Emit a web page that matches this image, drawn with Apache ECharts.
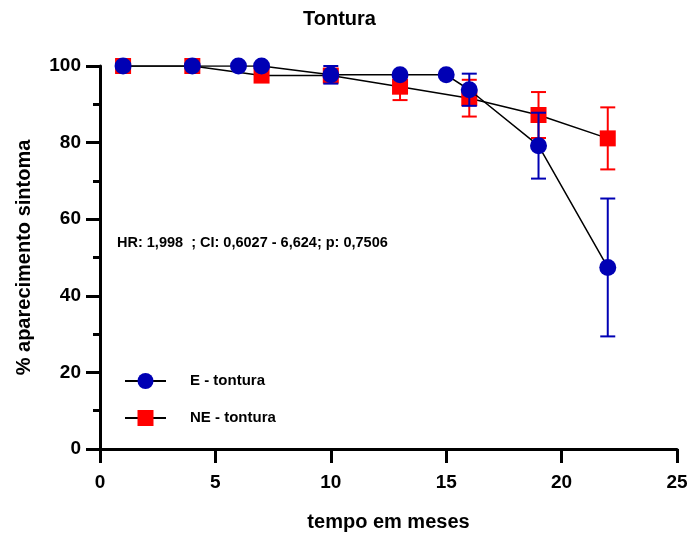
<!DOCTYPE html>
<html>
<head>
<meta charset="utf-8">
<script src="https://cdn.jsdelivr.net/npm/echarts@6/dist/echarts.min.js"></script>
<style>
  html, body { margin: 0; padding: 0; background: #fff; }
  #chart { width: 695px; height: 537px; }
</style>
</head>
<body>
<div id="chart"></div>
<script>
// E - tontura (blue circles)
const monthsE = [1, 4, 6, 7, 10, 13, 15, 16, 19, 22];
const valuesE = [100, 100, 100, 100, 97.7, 97.7, 97.7, 93.8, 79.2, 47.4];
const errE = [0, 0, 0, 0, 2.3, 0, 0, 4.2, 8.6, 18];

// NE - tontura (red squares)
const monthsNE = [1, 4, 7, 10, 13, 16, 19, 22];
const valuesNE = [100, 100, 97.5, 97.5, 94.6, 91.6, 87.2, 81.1];
const errNE = [0, 0, 0, 0, 3.5, 4.8, 6, 8.1];

const xTicks = [0, 5, 10, 15, 20, 25];
const yTicks = [0, 20, 40, 60, 80, 100];

const annotation = 'HR: 1,998  ; CI: 0,6027 - 6,624; p: 0,7506';

const BLUE = '#0000b4';
const RED = '#ff0000';
const FONT = 'Liberation Sans, Arial, sans-serif';

const pairs = (xs, ys) => xs.map((x, i) => [x, ys[i]]);
const errRows = (xs, ys, es) =>
  xs.map((x, i) => [x, ys[i] - es[i], ys[i] + es[i]]).filter((r, i) => es[i] > 0);

function errorBars(color) {
  return function (params, api) {
    const x = api.value(0);
    const lo = api.coord([x, api.value(1)]);
    const hi = api.coord([x, api.value(2)]);
    const hw = 7.5;
    const style = { stroke: color, lineWidth: 2 };
    return {
      type: 'group',
      children: [
        { type: 'line', shape: { x1: lo[0], y1: lo[1], x2: hi[0], y2: hi[1] }, style },
        { type: 'line', shape: { x1: hi[0] - hw, y1: hi[1], x2: hi[0] + hw, y2: hi[1] }, style },
        { type: 'line', shape: { x1: lo[0] - hw, y1: lo[1], x2: lo[0] + hw, y2: lo[1] }, style },
      ],
    };
  };
}

const chart = echarts.init(document.getElementById('chart'));

chart.setOption({
  animation: false,
  backgroundColor: '#fff',
  title: {
    text: 'Tontura',
    left: 298,
    top: 4,
    textStyle: { fontFamily: FONT, fontWeight: 'bold', fontSize: 20, color: '#000' },
  },
  legend: {
    orient: 'vertical',
    left: 124,
    top: 373,
    padding: 0,
    itemWidth: 41,
    itemHeight: 20,
    itemGap: 21,
    data: ['E - tontura', 'NE - tontura'],
    textStyle: { fontFamily: FONT, fontWeight: 'bold', fontSize: 15, color: '#000', padding: [0, 0, 0, 19] },
  },
  graphic: [
    {
      type: 'text',
      left: 117,
      top: 235,
      style: { text: annotation, fontFamily: FONT, fontWeight: 'bold', fontSize: 14.5, fill: '#000' },
    },
  ],
  grid: { left: 100, right: 18, top: 66, bottom: 88 },
  xAxis: {
    type: 'value',
    min: xTicks[0],
    max: xTicks[xTicks.length - 1],
    interval: 5,
    name: 'tempo em meses',
    nameLocation: 'middle',
    nameGap: 63,
    nameTextStyle: { fontFamily: FONT, fontWeight: 'bold', fontSize: 20, color: '#000' },
    axisLine: { onZero: false, lineStyle: { color: '#000', width: 3 } },
    axisTick: { length: 14, lineStyle: { color: '#000', width: 3 } },
    axisLabel: { margin: 24, fontFamily: FONT, fontWeight: 'bold', fontSize: 19, color: '#000' },
    splitLine: { show: false },
  },
  yAxis: {
    type: 'value',
    min: yTicks[0],
    max: yTicks[yTicks.length - 1],
    interval: 20,
    name: '% aparecimento sintoma',
    nameLocation: 'middle',
    nameGap: 66,
    nameTextStyle: { fontFamily: FONT, fontWeight: 'bold', fontSize: 20, color: '#000' },
    axisLine: { show: true, onZero: false, lineStyle: { color: '#000', width: 3 } },
    axisTick: { show: true, length: 14, lineStyle: { color: '#000', width: 3 } },
    minorTick: { show: true, splitNumber: 2, length: 7, lineStyle: { color: '#000', width: 3 } },
    axisLabel: { margin: 19, fontFamily: FONT, fontWeight: 'bold', fontSize: 19, color: '#000' },
    splitLine: { show: false },
  },
  series: [
    {
      type: 'custom',
      name: 'NE err',
      z: 2,
      renderItem: errorBars(RED),
      data: errRows(monthsNE, valuesNE, errNE),
      silent: true,
    },
    {
      name: 'NE - tontura',
      type: 'line',
      z: 3,
      data: pairs(monthsNE, valuesNE),
      symbol: 'rect',
      symbolSize: 16,
      itemStyle: { color: RED },
      lineStyle: { color: '#000', width: 1.5 },
    },
    {
      type: 'custom',
      name: 'E err',
      z: 4,
      renderItem: errorBars(BLUE),
      data: errRows(monthsE, valuesE, errE),
      silent: true,
    },
    {
      name: 'E - tontura',
      type: 'line',
      z: 5,
      data: pairs(monthsE, valuesE),
      symbol: 'circle',
      symbolSize: 17,
      itemStyle: { color: BLUE },
      lineStyle: { color: '#000', width: 1.5 },
    },
  ],
});
</script>
</body>
</html>
